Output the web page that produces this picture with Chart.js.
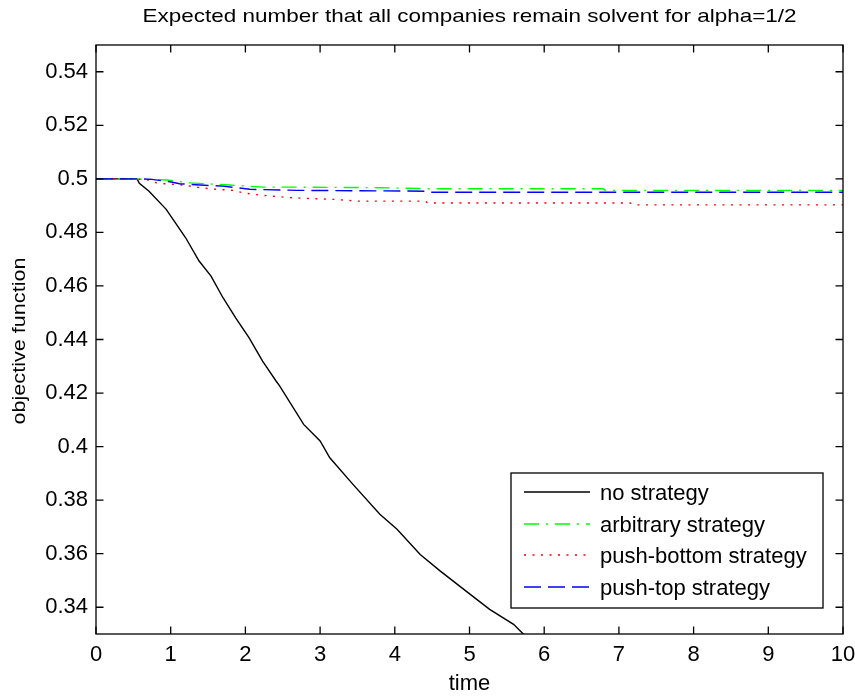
<!DOCTYPE html>
<html>
<head>
<meta charset="utf-8">
<script src="https://cdn.jsdelivr.net/npm/chart.js@4.4.1/dist/chart.umd.min.js"></script>
<style>
  html, body { margin: 0; padding: 0; background: #fff; }
  #wrap { width: 855px; height: 696px; position: relative; }
</style>
</head>
<body>
<div id="wrap"><canvas id="c" width="855" height="696"></canvas></div>
<script>
// ---- data ----
const chartTitle = 'Expected number that all companies remain solvent for alpha=1/2';
const xTitle = 'time';
const yTitle = 'objective function';
const xTicks = [0, 1, 2, 3, 4, 5, 6, 7, 8, 9, 10];
const yTicks = [0.34, 0.36, 0.38, 0.40, 0.42, 0.44, 0.46, 0.48, 0.50, 0.52, 0.54];
const seriesNames = ['no strategy', 'arbitrary strategy', 'push-bottom strategy', 'push-top strategy'];

const noStrategyT = [0, 0.55, 0.58, 0.71, 0.94, 1.20, 1.38, 1.54, 1.70, 1.87, 2.05, 2.23, 2.41, 2.46, 2.78, 3.00, 3.13, 3.44, 3.80, 4.03, 4.34, 4.61, 5.01, 5.27, 5.59, 5.72, 5.76];
const noStrategyV = [0.5, 0.5, 0.4983, 0.4954, 0.4886, 0.4780, 0.4693, 0.4637, 0.4556, 0.4481, 0.4406, 0.4319, 0.4245, 0.4226, 0.4083, 0.4021, 0.3958, 0.3859, 0.3747, 0.3691, 0.3597, 0.3535, 0.3448, 0.3392, 0.3336, 0.3300, 0.3290];

const arbitraryT = [0, 0.5, 0.95, 1.26, 1.79, 2.24, 2.69, 3.80, 4.5, 6.79, 6.82, 10];
const arbitraryV = [0.5, 0.5, 0.4996, 0.4985, 0.4977, 0.4969, 0.4969, 0.4967, 0.4963, 0.4963, 0.4957, 0.4957];

const pushBottomT = [0, 0.5, 0.7, 0.81, 0.92, 1.17, 1.39, 1.61, 1.84, 1.97, 2.11, 2.33, 2.64, 3.22, 3.49, 4.4, 4.45, 7.15, 7.2, 10];
const pushBottomV = [0.5, 0.5, 0.4996, 0.4985, 0.4982, 0.4977, 0.4967, 0.4961, 0.4957, 0.4948, 0.4942, 0.4936, 0.4929, 0.4923, 0.4917, 0.4917, 0.4910, 0.4910, 0.4903, 0.4903];

const pushTopT = [0, 0.6, 0.75, 0.99, 1.12, 1.39, 1.70, 2.06, 2.69, 4.4, 4.45, 10];
const pushTopV = [0.5, 0.5, 0.4998, 0.4989, 0.4982, 0.4977, 0.4973, 0.4961, 0.4957, 0.4954, 0.4950, 0.4950];

// ---- build ----
const FONT = '"Liberation Sans", Arial, Helvetica, sans-serif';
const pts = (t, v) => t.map((x, i) => ({ x: x, y: v[i] }));

const styles = [
  { color: '#000000', dash: [] },
  { color: '#00ff00', dash: [15, 7, 2, 7] },
  { color: '#ff0000', dash: [2, 6.5] },
  { color: '#0000ff', dash: [17, 7] }
];
const seriesData = [
  pts(noStrategyT, noStrategyV),
  pts(arbitraryT, arbitraryV),
  pts(pushBottomT, pushBottomV),
  pts(pushTopT, pushTopV)
];
const orders = [3, 2, 1, 0];

const datasets = seriesData.map((d, i) => ({
  label: seriesNames[i],
  data: d,
  borderColor: styles[i].color,
  backgroundColor: styles[i].color,
  borderDash: styles[i].dash,
  borderWidth: 1.4,
  pointRadius: 0,
  tension: 0,
  fill: false,
  order: orders[i]
}));

// draw text stretched horizontally to a target width
function stretchedText(ctx, text, cx, cy, size, targetW, rot) {
  ctx.save();
  ctx.font = size + 'px ' + FONT;
  const w = ctx.measureText(text).width;
  ctx.translate(cx, cy);
  if (rot) ctx.rotate(rot);
  ctx.scale(targetW / w, 1);
  ctx.textAlign = 'center';
  ctx.textBaseline = 'middle';
  ctx.fillStyle = '#000';
  ctx.fillText(text, 0, 0);
  ctx.restore();
}

const boxAndTicks = {
  id: 'boxAndTicks',
  afterDatasetsDraw(chart) {
    const { ctx, chartArea: a, scales } = chart;
    ctx.save();
    ctx.strokeStyle = '#000';
    ctx.lineWidth = 1.3;
    ctx.setLineDash([]);
    ctx.strokeRect(a.left, a.top, a.right - a.left, a.bottom - a.top);
    const L = 7.5;
    ctx.beginPath();
    xTicks.forEach(v => {
      const px = scales.x.getPixelForValue(v);
      ctx.moveTo(px, a.bottom); ctx.lineTo(px, a.bottom - L);
      ctx.moveTo(px, a.top); ctx.lineTo(px, a.top + L);
    });
    yTicks.forEach(v => {
      const py = scales.y.getPixelForValue(v);
      ctx.moveTo(a.left, py); ctx.lineTo(a.left + L, py);
      ctx.moveTo(a.right, py); ctx.lineTo(a.right - L, py);
    });
    ctx.stroke();
    ctx.restore();
  },
  afterDraw(chart) {
    const { ctx, chartArea: a } = chart;
    // title and y-axis label
    stretchedText(ctx, chartTitle, (a.left + a.right) / 2, 17, 19, 654, 0);
    stretchedText(ctx, yTitle, 20, 341, 19, 167, -Math.PI / 2);
    // legend box
    const bx = 511, by = 473, bw = 312, bh = 135;
    ctx.save();
    ctx.fillStyle = '#fff';
    ctx.fillRect(bx, by, bw, bh);
    ctx.strokeStyle = '#000';
    ctx.lineWidth = 1.3;
    ctx.setLineDash([]);
    ctx.strokeRect(bx, by, bw, bh);
    const rows = [494, 526, 557, 589];
    ctx.font = '22px ' + FONT;
    ctx.textBaseline = 'middle';
    ctx.textAlign = 'left';
    seriesNames.forEach((name, i) => {
      const y = rows[i];
      ctx.strokeStyle = styles[i].color;
      ctx.lineWidth = 1.4;
      ctx.setLineDash(styles[i].dash);
      ctx.beginPath();
      ctx.moveTo(524, y - 2);
      ctx.lineTo(590, y - 2);
      ctx.stroke();
      ctx.setLineDash([]);
      ctx.fillStyle = '#000';
      ctx.fillText(name, 600, y);
    });
    ctx.restore();
  }
};

new Chart(document.getElementById('c'), {
  type: 'line',
  data: { datasets: datasets },
  options: {
    responsive: false,
    animation: false,
    events: [],
    layout: { padding: { left: 0, right: 0, top: 45, bottom: 0 } },
    plugins: {
      legend: { display: false },
      tooltip: { enabled: false },
      title: { display: false }
    },
    scales: {
      x: {
        type: 'linear',
        min: 0, max: 10,
        afterFit(s) { s.height = 62; s.paddingRight = 12; s.paddingLeft = 0; },
        afterBuildTicks(s) { s.ticks = xTicks.map(v => ({ value: v })); },
        grid: { display: false, drawTicks: false },
        border: { display: false },
        ticks: {
          color: '#000', padding: 8, maxRotation: 0, autoSkip: false,
          font: { family: FONT, size: 22 },
          callback: v => String(v)
        },
        title: {
          display: true, text: xTitle, color: '#000',
          font: { family: FONT, size: 22, lineHeight: 1 },
          padding: { top: 0, bottom: 1 }
        }
      },
      y: {
        type: 'linear',
        min: 0.33, max: 0.55,
        afterFit(s) { s.width = 96; s.paddingTop = 0; s.paddingBottom = 0; },
        afterBuildTicks(s) { s.ticks = yTicks.map(v => ({ value: v })); },
        grid: { display: false, drawTicks: false },
        border: { display: false },
        ticks: {
          color: '#000', padding: 8, autoSkip: false,
          font: { family: FONT, size: 22 },
          callback: v => String(Number(v.toFixed(2)))
        },
        title: { display: false }
      }
    }
  },
  plugins: [boxAndTicks]
});
</script>
</body>
</html>
